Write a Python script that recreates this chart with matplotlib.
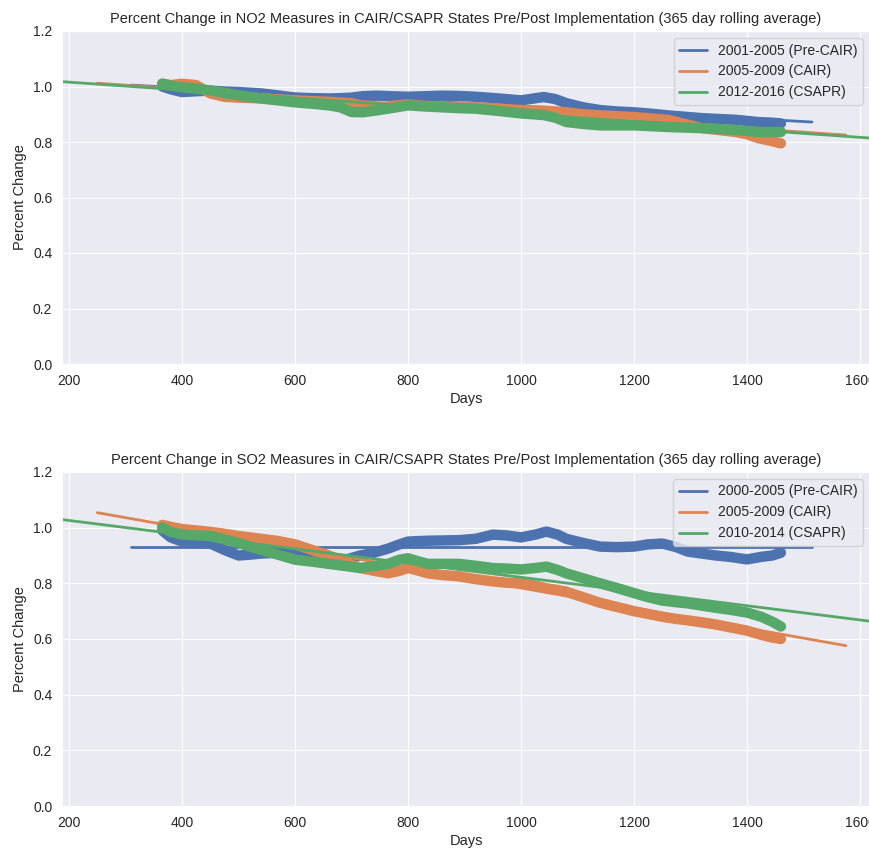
import numpy as np
import matplotlib
matplotlib.use("Agg")
import matplotlib.pyplot as plt
import seaborn as sns

sns.set_style("darkgrid")
plt.rcParams["font.family"] = ["Liberation Sans", "DejaVu Sans"]

# 365 day rolling averages, normalised to the first year of each period
no2_days = [365, 380, 400, 425, 450, 475, 500, 540, 570, 600, 630, 660, 680, 700, 720, 745, 770,
            800, 830, 860, 890, 920, 960, 1000, 1040, 1060, 1080, 1110, 1140, 1170, 1200, 1230,
            1260, 1290, 1320, 1350, 1380, 1400, 1420, 1440, 1460]
no2_pre_cair = [1.00, 0.99, 0.98, 0.983, 0.985, 0.982, 0.98, 0.975, 0.968, 0.96, 0.958, 0.957,
                0.958, 0.96, 0.965, 0.967, 0.965, 0.963, 0.965, 0.967, 0.966, 0.963, 0.957, 0.95,
                0.962, 0.955, 0.94, 0.925, 0.915, 0.91, 0.907, 0.902, 0.896, 0.891, 0.886, 0.883,
                0.88, 0.876, 0.872, 0.87, 0.867]
no2_cair = [1.01, 1.005, 1.01, 1.005, 0.975, 0.963, 0.96, 0.957, 0.953, 0.95, 0.947, 0.945,
            0.942, 0.94, 0.93, 0.918, 0.93, 0.935, 0.93, 0.928, 0.926, 0.925, 0.92, 0.915, 0.913,
            0.91, 0.907, 0.9, 0.896, 0.893, 0.89, 0.885, 0.88, 0.865, 0.85, 0.843, 0.836, 0.828,
            0.814, 0.805, 0.795]
no2_csapr = [1.01, 1.003, 0.997, 0.992, 0.986, 0.977, 0.968, 0.957, 0.95, 0.943, 0.938, 0.932,
             0.925, 0.908, 0.907, 0.914, 0.922, 0.932, 0.928, 0.925, 0.922, 0.92, 0.912, 0.903,
             0.897, 0.888, 0.872, 0.865, 0.86, 0.86, 0.86, 0.857, 0.854, 0.852, 0.85, 0.847,
             0.843, 0.84, 0.836, 0.836, 0.836]

so2_days = [365, 380, 400, 425, 450, 475, 500, 520, 540, 570, 600, 630, 660, 690, 715, 740, 765,
            785, 800, 820, 835, 860, 890, 920, 950, 975, 1000, 1025, 1045, 1065, 1080, 1110,
            1140, 1170, 1200, 1225, 1250, 1275, 1295, 1320, 1345, 1370, 1400, 1425, 1445, 1460]
so2_pre_cair = [0.99, 0.965, 0.95, 0.945, 0.943, 0.92, 0.90, 0.903, 0.907, 0.91, 0.914, 0.895,
                0.87, 0.885, 0.90, 0.91, 0.925, 0.94, 0.95, 0.952, 0.953, 0.954, 0.955, 0.96,
                0.975, 0.972, 0.965, 0.975, 0.986, 0.975, 0.96, 0.945, 0.932, 0.93, 0.932, 0.94,
                0.943, 0.93, 0.914, 0.907, 0.90, 0.895, 0.886, 0.895, 0.90, 0.91]
so2_cair = [1.01, 1.003, 0.995, 0.99, 0.985, 0.978, 0.97, 0.965, 0.96, 0.952, 0.94, 0.92, 0.90,
            0.875, 0.855, 0.845, 0.836, 0.845, 0.855, 0.845, 0.836, 0.83, 0.825, 0.815, 0.807,
            0.802, 0.80, 0.792, 0.782, 0.776, 0.77, 0.75, 0.73, 0.715, 0.70, 0.69, 0.68, 0.672,
            0.667, 0.66, 0.652, 0.642, 0.63, 0.615, 0.605, 0.60]
so2_csapr = [1.00, 0.985, 0.975, 0.972, 0.97, 0.958, 0.945, 0.932, 0.92, 0.903, 0.885, 0.878,
             0.87, 0.862, 0.855, 0.862, 0.87, 0.885, 0.89, 0.878, 0.87, 0.87, 0.87, 0.863, 0.855,
             0.853, 0.85, 0.855, 0.86, 0.848, 0.836, 0.818, 0.80, 0.783, 0.765, 0.75, 0.738,
             0.732, 0.728, 0.72, 0.712, 0.705, 0.695, 0.68, 0.662, 0.645]

# linear fits: (start day, end day) and (start value, end value)
no2_fit_days = {"pre": [310, 1515], "cair": [250, 1575], "csapr": [184, 1641]}
no2_fit_vals = {"pre": [1.005, 0.872], "cair": [1.012, 0.825], "csapr": [1.018, 0.811]}
so2_fit_days = {"pre": [310, 1515], "cair": [250, 1575], "csapr": [184, 1641]}
so2_fit_vals = {"pre": [0.929, 0.929], "cair": [1.054, 0.576], "csapr": [1.030, 0.658]}

colors = {"pre": "#4C72B0", "cair": "#DD8452", "csapr": "#55A868"}

fig = plt.figure(figsize=(8.7, 8.48), dpi=100)
ax1 = fig.add_axes([0.0713, 1 - 364 / 848, 0.9287, 333 / 848])
ax2 = fig.add_axes([0.0713, 1 - 806 / 848, 0.9287, 334 / 848])


def draw_panel(ax, days, series, labels, fit_days, fit_vals, title):
    for key in ["pre", "cair", "csapr"]:
        ax.plot(days, series[key], color=colors[key], lw=7.5,
                solid_capstyle="round", solid_joinstyle="round")
        ax.plot(fit_days[key], fit_vals[key], color=colors[key], lw=2,
                label=labels[key])
    ax.set_xlim(187.6, 1617.7)
    ax.set_ylim(0, 1.2)
    ax.set_xticks([200, 400, 600, 800, 1000, 1200, 1400, 1600])
    ax.set_yticks([0.0, 0.2, 0.4, 0.6, 0.8, 1.0, 1.2])
    ax.tick_params(labelsize=10, colors=".15")
    ax.set_xlabel("Days", fontsize=10.5, color=".15", labelpad=3)
    ax.set_ylabel("Percent Change", fontsize=10.5, color=".15")
    ax.set_title(title, fontsize=10.5, color=".15")
    ax.legend(loc="upper right", fontsize=10, handlelength=2.0)


draw_panel(ax1, no2_days,
           {"pre": no2_pre_cair, "cair": no2_cair, "csapr": no2_csapr},
           {"pre": "2001-2005 (Pre-CAIR)", "cair": "2005-2009 (CAIR)",
            "csapr": "2012-2016 (CSAPR)"},
           no2_fit_days, no2_fit_vals,
           "Percent Change in NO2 Measures in CAIR/CSAPR States Pre/Post Implementation (365 day rolling average)")

draw_panel(ax2, so2_days,
           {"pre": so2_pre_cair, "cair": so2_cair, "csapr": so2_csapr},
           {"pre": "2000-2005 (Pre-CAIR)", "cair": "2005-2009 (CAIR)",
            "csapr": "2010-2014 (CSAPR)"},
           so2_fit_days, so2_fit_vals,
           "Percent Change in SO2 Measures in CAIR/CSAPR States Pre/Post Implementation (365 day rolling average)")

fig.savefig("out.png", dpi=100)
